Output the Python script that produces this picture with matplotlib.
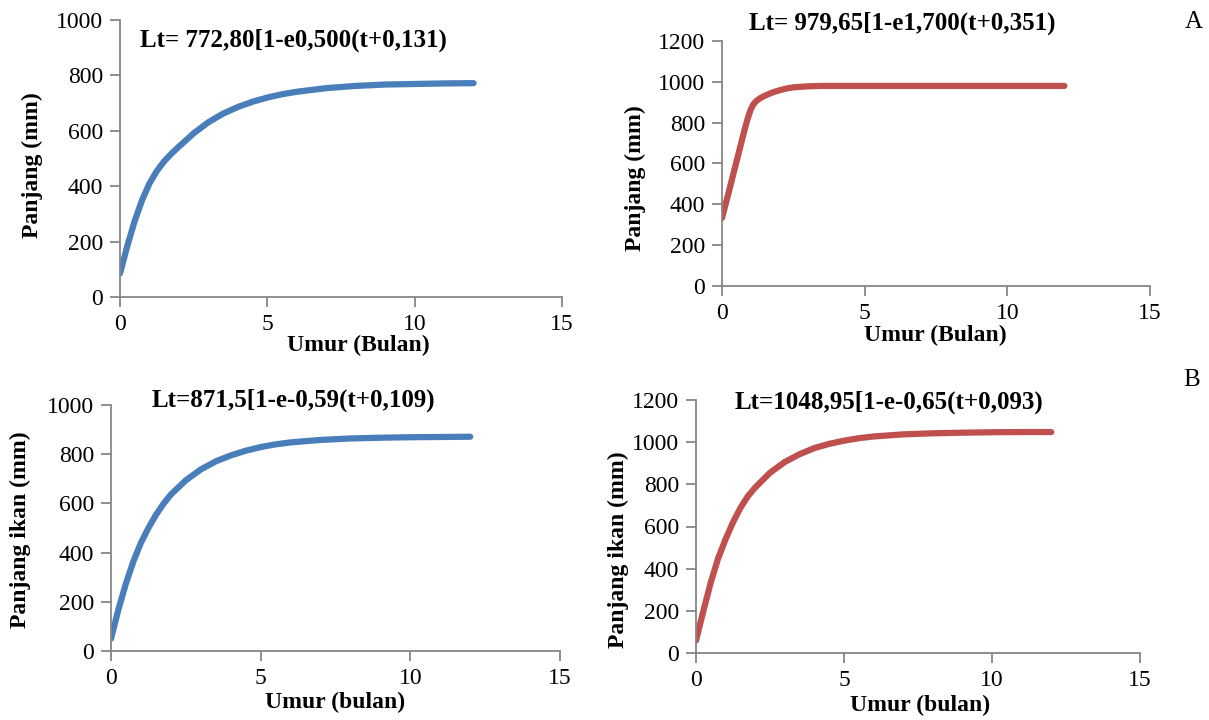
import numpy as np
import matplotlib.pyplot as plt

plt.rcParams['font.family'] = ['Liberation Serif', 'DejaVu Serif']

# nilai (umur bulan, panjang mm)
t_a1 = [0, 0.25, 0.5, 0.75, 1, 1.25, 1.5, 1.75, 2, 2.5, 3, 3.5, 4, 4.5, 5, 5.5, 6, 7, 8, 9, 10, 11, 12]
L_a1 = [85, 185, 275, 350, 410, 455, 490, 518, 543, 591, 631, 662, 686, 705, 720, 732, 741, 754, 762, 767, 769, 771, 772]

t_a2 = [0, 0.2, 0.4, 0.6, 0.8, 0.9, 1.0, 1.1, 1.2, 1.35, 1.5, 1.75, 2, 2.25, 2.5, 3, 3.5, 4, 5, 6, 7, 8, 9, 10, 11, 12]
L_a2 = [333, 440, 550, 660, 770, 820, 862, 890, 906, 921, 932, 947, 958, 967, 973, 978, 980, 980, 980, 980, 980, 980, 980, 980, 980, 980]

t_b1 = [0, 0.25, 0.5, 0.75, 1, 1.25, 1.5, 1.75, 2, 2.5, 3, 3.5, 4, 4.5, 5, 5.5, 6, 7, 8, 9, 10, 11, 12]
L_b1 = [50, 170, 275, 365, 440, 500, 553, 598, 636, 694, 738, 771, 795, 814, 829, 840, 848, 858, 864, 867, 869, 870, 871]

t_b2 = [0, 0.25, 0.5, 0.75, 1, 1.25, 1.5, 1.75, 2, 2.5, 3, 3.5, 4, 4.5, 5, 5.5, 6, 7, 8, 9, 10, 11, 12]
L_b2 = [59, 200, 335, 450, 540, 620, 688, 743, 785, 855, 906, 943, 972, 992, 1007, 1019, 1027, 1037, 1042, 1045, 1047, 1048, 1048]

judul = ['Lt= 772,80[1-e0,500(t+0,131)', 'Lt= 979,65[1-e1,700(t+0,351)',
         'Lt=871,5[1-e-0,59(t+0,109)', 'Lt=1048,95[1-e-0,65(t+0,093)']
ylabels = ['Panjang (mm)', 'Panjang (mm)', 'Panjang ikan (mm)', 'Panjang ikan (mm)']
xlabels = ['Umur (Bulan)', 'Umur (Bulan)', 'Umur (bulan)', 'Umur (bulan)']
ymax = [1000, 1200, 1000, 1200]

W, H = 1209, 720
fig = plt.figure(figsize=(W / 100, H / 100), dpi=100)

def px_axes(x0, y0, x1, y1):
    # kotak axes dalam koordinat piksel gambar (y dari atas)
    return fig.add_axes([x0 / W, 1 - y1 / H, (x1 - x0) / W, (y1 - y0) / H])

boxes = [(120, 20, 562, 297), (722, 41, 1150, 286), (111, 405, 560, 651), (696, 400, 1140, 653)]
data = [(t_a1, L_a1), (t_a2, L_a2), (t_b1, L_b1), (t_b2, L_b2)]
warna = ['#4a7ebb', '#c0504d', '#4a7ebb', '#c0504d']
pos_judul = [(293, 40), (902, 23), (293, 400), (889, 402)]
pos_x = [(358, 345), (935, 335), (335, 702), (920, 705)]
pos_y = [(32, 165), (635, 178), (20, 530), (618, 550)]

for i in range(4):
    ax = px_axes(*boxes[i])
    t, L = data[i]
    ax.plot(t, L, color=warna[i], lw=4.5, solid_capstyle='round', solid_joinstyle='round')
    ax.set_xlim(0, 15)
    ax.set_ylim(0, ymax[i])
    ax.set_xticks([0, 5, 10, 15])
    ax.set_yticks(np.arange(0, ymax[i] + 1, 200))
    for s in ['top', 'right']:
        ax.spines[s].set_visible(False)
    for s in ['left', 'bottom']:
        ax.spines[s].set_color('#868686')
        ax.spines[s].set_linewidth(1.3)
    ax.tick_params(direction='out', length=7, width=1.3, color='#868686',
                   labelsize=17, pad=5)
    ax.patch.set_alpha(0)
    fig.text(pos_judul[i][0] / W, 1 - pos_judul[i][1] / H, judul[i],
             ha='center', va='center', fontsize=18, fontweight='bold')
    fig.text(pos_x[i][0] / W, 1 - pos_x[i][1] / H, xlabels[i],
             ha='center', va='center', fontsize=17, fontweight='bold')
    fig.text(pos_y[i][0] / W, 1 - pos_y[i][1] / H, ylabels[i], rotation=90,
             ha='center', va='center', fontsize=17, fontweight='bold')

fig.text(1194 / W, 1 - 22 / H, 'A', ha='center', va='center', fontsize=18)
fig.text(1192 / W, 1 - 380 / H, 'B', ha='center', va='center', fontsize=18)

fig.savefig('out.png', dpi=100)
